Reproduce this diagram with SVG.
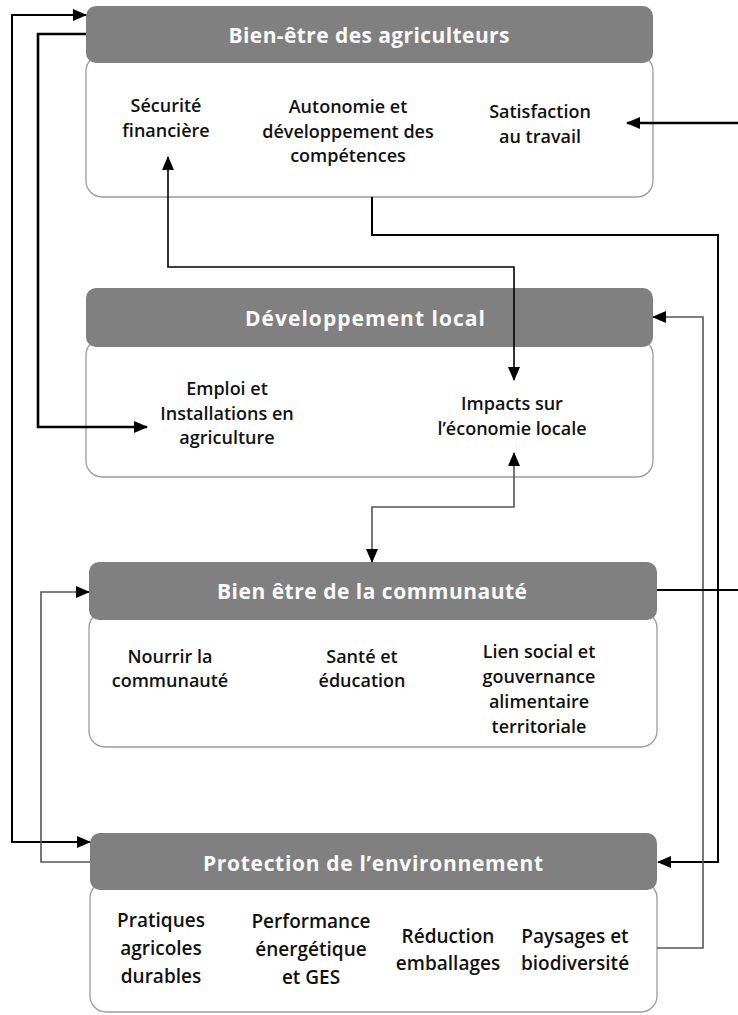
<svg xmlns="http://www.w3.org/2000/svg" width="738" height="1015" viewBox="0 0 738 1015">
<defs>
<marker id="ah" markerUnits="userSpaceOnUse" markerWidth="14" markerHeight="12" refX="13" refY="6" orient="auto-start-reverse">
<path d="M0,0 L14,6 L0,12 z" fill="#000"/>
</marker>
<style>
.hdr{fill:#808080;}
.body{fill:#fff;stroke:#9a9a9a;stroke-width:1.3;}
.ht{font-family:"Open Sans","Liberation Sans",sans-serif;font-weight:bold;font-size:21px;fill:#fafafa;text-anchor:middle;}
.bt{font-family:"Open Sans","Liberation Sans",sans-serif;font-weight:600;font-size:18px;fill:#111;text-anchor:middle;}
.bt4{font-size:19px;}
.c{fill:none;stroke:#000;stroke-width:2;}
.cg{fill:none;stroke:#555;stroke-width:1.6;}
</style>
</defs>
<rect width="738" height="1015" fill="#fff"/>

<g id="node-agriculteurs">
<rect class="body" x="86" y="55" width="567" height="142" rx="16"/>
<rect class="hdr" x="86" y="6" width="567" height="57" rx="10"/>
<text class="ht" x="369" y="43" textLength="281" lengthAdjust="spacing">Bien-être des agriculteurs</text>
<text class="bt" x="166" y="112">Sécurité</text>
<text class="bt" x="166" y="137">financière</text>
<text class="bt" x="348" y="113">Autonomie et</text>
<text class="bt" x="348" y="138">développement des</text>
<text class="bt" x="348" y="162">compétences</text>
<text class="bt" x="540" y="118">Satisfaction</text>
<text class="bt" x="540" y="143">au travail</text>
</g>

<g id="node-local">
<rect class="body" x="86" y="339" width="567" height="138" rx="16"/>
<rect class="hdr" x="86" y="288" width="567" height="59" rx="10"/>
<text class="ht" x="365" y="326" textLength="240" lengthAdjust="spacing">Développement local</text>
<text class="bt" x="227" y="395">Emploi et</text>
<text class="bt" x="227" y="420">Installations en</text>
<text class="bt" x="227" y="444">agriculture</text>
<text class="bt" x="512" y="410">Impacts sur</text>
<text class="bt" x="512" y="435">l’économie locale</text>
</g>

<g id="node-communaute">
<rect class="body" x="89" y="612" width="568" height="135" rx="16"/>
<rect class="hdr" x="89" y="562" width="568" height="58" rx="10"/>
<text class="ht" x="372" y="599" textLength="310" lengthAdjust="spacing">Bien être de la communauté</text>
<text class="bt" x="170" y="663">Nourrir la</text>
<text class="bt" x="170" y="687">communauté</text>
<text class="bt" x="362" y="663">Santé et</text>
<text class="bt" x="362" y="687">éducation</text>
<text class="bt" x="539" y="658">Lien social et</text>
<text class="bt" x="539" y="683">gouvernance</text>
<text class="bt" x="539" y="708">alimentaire</text>
<text class="bt" x="539" y="733">territoriale</text>
</g>

<g id="node-environnement">
<rect class="body" x="90" y="882" width="567" height="130" rx="16"/>
<rect class="hdr" x="90" y="833" width="567" height="57" rx="10"/>
<text class="ht" x="373" y="871" textLength="340" lengthAdjust="spacing">Protection de l’environnement</text>
<text class="bt bt4" x="161" y="927">Pratiques</text>
<text class="bt bt4" x="161" y="955">agricoles</text>
<text class="bt bt4" x="161" y="983">durables</text>
<text class="bt bt4" x="311" y="928">Performance</text>
<text class="bt bt4" x="311" y="956">énergétique</text>
<text class="bt bt4" x="311" y="984">et GES</text>
<text class="bt bt4" x="448" y="943">Réduction</text>
<text class="bt bt4" x="448" y="970">emballages</text>
<text class="bt bt4" x="575" y="943">Paysages et</text>
<text class="bt bt4" x="575" y="970">biodiversité</text>
</g>

<g id="connectors">
<path class="c" d="M86,15 H12 V842 H90" marker-start="url(#ah)" marker-end="url(#ah)"/>
<path class="c" style="stroke-width:2.6" d="M86,34 H38 V427 H147" marker-end="url(#ah)"/>
<path class="c" d="M372,197 V235 H718 V862 H658" marker-end="url(#ah)"/>
<path class="cg" d="M657,948 H703 V317 H653" marker-end="url(#ah)"/>
<path class="c" style="stroke-width:2.4" d="M738,123 H627" marker-end="url(#ah)"/>
<path class="c" style="stroke-width:1.6" d="M168,157 V267 H514 V380" marker-start="url(#ah)" marker-end="url(#ah)"/>
<path class="cg" d="M514,453 V507 H372 V562" marker-start="url(#ah)" marker-end="url(#ah)"/>
<path class="c" d="M657,590 H738"/>
<path class="cg" d="M90,862 H41 V592 H89" marker-end="url(#ah)"/>
</g>
</svg>
